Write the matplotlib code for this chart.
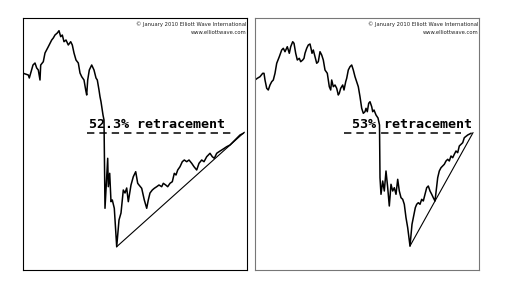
import numpy as np
import matplotlib
matplotlib.use("Agg")
import matplotlib.pyplot as plt

plt.rcParams['lines.scale_dashes'] = False

# left chart: price path (time, level)
t_left = [0.3, 5.3, 6.3, 10, 12, 13.7, 15.3, 17, 17.7, 20.3, 22, 25.3, 28.7, 30.3, 32, 34.3, 36,
          37.7, 39.3, 41, 43, 45.3, 47.7, 49.3, 51, 53, 55.3, 57, 58.7, 61, 62.7, 63.7, 64.7,
          66.3, 68.7, 71, 73, 74.3, 76, 77, 78, 80, 81, 82, 84.7, 85.3, 86.7, 88, 89.3, 91.3,
          93.7, 96, 98, 100.3, 102, 103.7, 105.3, 108, 110.3, 112.7, 114.7, 116, 118.7, 121.3,
          123.7, 125.3, 127, 129.3, 131.3, 133.7, 136, 138.7, 140.3, 142.7, 144.7, 147, 149.3,
          151.3, 153, 154.7, 157, 159.3, 161.3, 163.7, 166, 168.7, 171, 173.7, 176, 178.7, 181,
          183.7, 187, 189.3, 191.3, 193.7, 196, 198.7, 201.3, 203.7, 207, 210.3, 213.7, 217, 220.3]
p_left = [196.7, 195, 192, 205, 207, 202, 200, 190, 205, 208.3, 217, 223.3, 230, 232, 235, 237,
          239.3, 233.3, 235, 228.3, 230, 225, 228.3, 225, 217, 210, 207, 197, 193.3, 190, 180,
          175, 190, 200, 205, 200, 192, 190, 180, 173.3, 168.3, 155, 150, 61.7, 111.7, 83.3,
          96.7, 68.3, 70, 61.7, 23.3, 50, 57, 80, 77, 82, 68.3, 85, 93.3, 98.3, 86.7, 85, 81.7,
          70, 61.7, 70, 77, 80, 81.7, 83.3, 85, 83.3, 86.7, 85, 83.3, 86.7, 88.3, 96.7, 95, 100,
          103.3, 108.3, 110, 108.3, 110, 106.7, 103.3, 100, 106.7, 110, 108.3, 113.3, 116.7,
          113.3, 111.7, 116.7, 118.3, 120, 121.7, 123.3, 125, 128.3, 131.7, 135, 136.7]
trend_left_t = [93.7, 221.3]
trend_left_p = [23.3, 137.7]
retr_left = 136.7
retr_left_span = [64, 210]
label_left = "52.3% retracement"
label_left_t = 134.4

# right chart
t_right = [0, 2.3, 5, 7.7, 9, 10, 11.7, 13.3, 15, 16.7, 18.3, 20, 21.7, 24.3, 26.7, 28.3, 30,
           32.3, 34.3, 35.7, 37.7, 39, 40.7, 42.3, 44.3, 45.7, 47.7, 49, 50, 51.7, 53.3, 55, 56,
           57, 58.3, 60, 61.7, 63.3, 65, 66.7, 68.3, 70, 72.3, 74.3, 75.7, 76.7, 78.3, 80, 81.7,
           83.3, 84.3, 85.7, 87.7, 89, 90.7, 91.7, 93.3, 95, 96.7, 98.3, 100, 101.7, 103.3, 105,
           106.7, 108.3, 110, 111, 112.3, 113.7, 115, 116.7, 117.7, 119, 121, 123, 124.5, 125,
           126, 127.7, 129.3, 131, 132.7, 134.3, 136, 137.7, 139.3, 141, 142.7, 144.3, 146, 147.7,
           149.3, 151, 152.7, 155, 157, 158.3, 160.3, 161.7, 163.3, 165, 166.7, 168.3, 170, 171.7,
           173.3, 175, 176.7, 178.3, 180, 181, 182.7, 184.3, 186, 187.7, 189.3, 191, 192.7, 194.3,
           196, 197.7, 199.3, 201, 202.7, 204.3, 206, 207.7, 209.3, 212.7, 216]
p_right = [190, 191.7, 193.3, 196.7, 196.7, 190, 181.7, 180, 185, 188.3, 190, 196.7, 206.7,
           213.3, 220, 221.7, 218.3, 223.3, 216.7, 223.3, 228.3, 226.7, 216.7, 210, 211.7, 208.3,
           210, 211.7, 216.7, 221.7, 225, 226, 221.7, 216.7, 220, 213.3, 206.7, 208.3, 218.3, 215,
           210, 200, 196.7, 183.3, 180, 190, 183.3, 185, 181.7, 175, 176.7, 181.7, 185, 180, 188.3,
           191.7, 200, 203.3, 205, 200, 193.3, 188.3, 183.3, 173.3, 161.7, 156.7, 158.3, 161.7,
           158.3, 166.7, 168.3, 163.3, 158.3, 160, 155, 152, 145, 92.3, 75.7, 89, 79, 99, 82.3,
           64, 85.7, 79, 82.3, 75.7, 90.7, 79, 72.3, 70.7, 65.7, 52.3, 42.3, 24, 45.7, 52.3, 62.3,
           65.7, 67.3, 65.7, 70.7, 69, 75.7, 82.3, 84, 79, 75.7, 72.3, 69, 77.3, 92.3, 99, 102.3,
           104, 105.7, 109, 110.7, 109, 114, 112.3, 115.7, 119, 117.3, 124, 125.7, 127.3, 132.3,
           135, 136.7]
trend_right_t = [155, 218]
trend_right_p = [24, 137.3]
retr_right = 136.7
retr_right_span = [89.3, 206]
label_right = "53% retracement"
label_right_t = 157.5

copyright = ["\u00a9 January 2010 Elliott Wave International", "www.elliottwave.com"]

fig = plt.figure(figsize=(5.12, 2.82), dpi=100)
ax1 = fig.add_axes([23 / 512, 12 / 282, 224 / 512, 252 / 282])
ax2 = fig.add_axes([255 / 512, 12 / 282, 224 / 512, 252 / 282])

panels = [
    (ax1, t_left, p_left, trend_left_t, trend_left_p, retr_left, retr_left_span,
     label_left, label_left_t, "black"),
    (ax2, t_right, p_right, trend_right_t, trend_right_p, retr_right, retr_right_span,
     label_right, label_right_t, "#777777"),
]

for ax, t, p, tt, tp, lvl, span, lab, lab_t, frame in panels:
    ax.plot(t, p, color="black", lw=1.1)
    ax.plot(tt, tp, color="black", lw=0.8)
    ax.plot(span, [lvl, lvl], color="black", lw=1.1, dashes=(5.3, 3.6))
    ax.text(lab_t, lvl + 2.5, lab, ha="center", va="bottom", fontsize=9.6,
            fontweight="bold", family="DejaVu Sans Mono", color="black")
    ax.text(0.996, 0.975, copyright[0], transform=ax.transAxes, ha="right", va="center",
            fontsize=3.8, color="#222222")
    ax.text(0.996, 0.943, copyright[1], transform=ax.transAxes, ha="right", va="center",
            fontsize=3.8, color="#222222")
    ax.set_xlim(0, 224)
    ax.set_ylim(0, 252)
    ax.set_xticks([])
    ax.set_yticks([])
    for s in ax.spines.values():
        s.set_color(frame)
        s.set_linewidth(0.8)

fig.savefig("out.png", dpi=100, facecolor="white")
